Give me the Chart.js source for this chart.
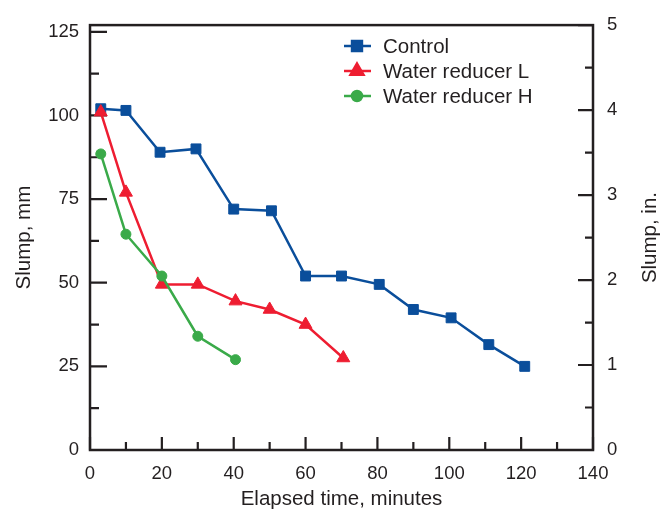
<!DOCTYPE html>
<html>
<head>
<meta charset="utf-8">
<script src="https://cdn.jsdelivr.net/npm/chart.js@4/dist/chart.umd.min.js"></script>
<style>
html,body{margin:0;padding:0;background:#fff}
canvas{display:block}
</style>
</head>
<body>
<canvas id="graf" width="669" height="513"></canvas>
<script>
/* DADOS */
const tControl=[3,10,19.5,29.5,40,50.5,60,70,80.5,90,100.5,111,121];
const slumpControl=[102,101.5,89,90,72,71.5,52,52,49.5,42,39.5,31.5,25];
const tL=[3,10,20,30,40.5,50,60,70.5];
const slumpL=[101,77,49.5,49.5,44.5,42,37.5,27.5];
const tH=[3,10,20,30,40.5];
const slumpH=[88.5,64.5,52,34,27];

const nomes=['Control','Water reducer L','Water reducer H'];

const xTicks=[0,10,20,30,40,50,60,70,80,90,100,110,120,130,140];
const mmTicks=[0,12.5,25,37.5,50,62.5,75,87.5,100,112.5,125];
const inTicks=[0,0.5,1,1.5,2,2.5,3,3.5,4,4.5,5];
const mmPorPol=25.4;

const cores=['#0a4e9b','#ee1d31','#3aaa49'];
const tinta='#231f20';
const fonte='"Liberation Sans", Arial, Helvetica, sans-serif';

function pts(xs,ys){return xs.map((x,i)=>({x:x,y:ys[i]}));}

/* MOLDURA + TICKS PRA DENTRO */
const moldura={
id:'moldura',
beforeDatasetsDraw(c){
const ctx=c.ctx,a=c.chartArea;
const sx=c.scales.x,sy=c.scales.y,sy2=c.scales.y2;
ctx.save();
ctx.strokeStyle=tinta;
ctx.lineWidth=2.2;
ctx.lineCap='butt';
ctx.beginPath();
xTicks.forEach(v=>{
let px=sx.getPixelForValue(v);
let len=v%20===0?13:8;
ctx.moveTo(px,a.bottom);ctx.lineTo(px,a.bottom-len);
});
mmTicks.forEach(v=>{
let py=sy.getPixelForValue(v);
let len=v%25===0?17:9;
ctx.moveTo(a.left,py);ctx.lineTo(a.left+len,py);
});
inTicks.forEach(v=>{
let py=sy2.getPixelForValue(v);
let len=v%1===0?15:8;
ctx.moveTo(a.right,py);ctx.lineTo(a.right-len,py);
});
ctx.stroke();
ctx.lineWidth=2.5;
ctx.strokeRect(a.left,a.top,a.right-a.left,a.bottom-a.top);
ctx.restore();
},
afterDraw(c){
const ctx=c.ctx,a=c.chartArea;
ctx.save();
/* titulo eixo direito, lido de baixo pra cima */
ctx.fillStyle=tinta;
ctx.font='20.5px '+fonte;
ctx.textAlign='center';
ctx.textBaseline='middle';
ctx.translate(650,(a.top+a.bottom)/2);
ctx.rotate(-Math.PI/2);
ctx.fillText('Slump, in.',0,0);
ctx.restore();

/* LEGENDA */
ctx.save();
c.data.datasets.forEach((d,i)=>{
let y=46+i*25;
ctx.strokeStyle=d.borderColor;
ctx.fillStyle=d.backgroundColor;
ctx.lineWidth=2.5;
ctx.beginPath();ctx.moveTo(344,y);ctx.lineTo(371,y);ctx.stroke();
Chart.helpers.drawPoint(ctx,{pointStyle:d.pointStyle,radius:d.pointRadius,borderWidth:1,rotation:0},357,y);
ctx.fillStyle=tinta;
ctx.font='20.5px '+fonte;
ctx.textAlign='left';
ctx.textBaseline='middle';
ctx.fillText(d.label,383,y+1);
});
ctx.restore();
}
};

function serie(i,xs,ys,estilo,raio){
return{
label:nomes[i],
data:pts(xs,ys),
borderColor:cores[i],
backgroundColor:cores[i],
borderWidth:2.5,
pointStyle:estilo,
pointRadius:raio,
pointBorderWidth:1,
pointHoverRadius:raio,
tension:0,
order:3-i
};
}

new Chart(document.getElementById('graf'),{
type:'line',
data:{datasets:[
serie(0,tControl,slumpControl,'rect',7),
serie(1,tL,slumpL,'triangle',7.5),
serie(2,tH,slumpH,'circle',5)
]},
options:{
responsive:false,
animation:false,
layout:{padding:{top:21,left:0,right:0,bottom:0}},
plugins:{legend:{display:false},tooltip:{enabled:false}},
scales:{
x:{
type:'linear',
min:0,max:140,
afterBuildTicks:s=>{s.ticks=xTicks.map(v=>({value:v}));},
afterFit:s=>{s.height=63;},
grid:{display:false,drawTicks:false},
border:{display:false},
ticks:{
autoSkip:false,maxRotation:0,padding:13,color:tinta,
font:{family:fonte,size:18.5},
callback:v=>v%20===0?String(v):''
},
title:{display:true,text:'Elapsed time, minutes',color:tinta,
font:{family:fonte,size:20.5},padding:{top:0,bottom:1}}
},
y:{
position:'left',
min:0,max:5*mmPorPol,
afterBuildTicks:s=>{s.ticks=mmTicks.map(v=>({value:v}));},
afterFit:s=>{s.width=90;},
grid:{display:false,drawTicks:false},
border:{display:false},
ticks:{
autoSkip:false,padding:11,color:tinta,
font:{family:fonte,size:18.5},
callback:v=>v%25===0?String(v):''
},
title:{display:true,text:'Slump, mm',color:tinta,
font:{family:fonte,size:20.5},padding:{top:12,bottom:0}}
},
y2:{
position:'right',
min:0,max:5,
afterBuildTicks:s=>{s.ticks=inTicks.map(v=>({value:v}));},
afterFit:s=>{s.width=76;},
grid:{display:false,drawTicks:false},
border:{display:false},
ticks:{
autoSkip:false,padding:14,color:tinta,
font:{family:fonte,size:18.5},
callback:v=>v%1===0?String(v):''
}
}
}
},
plugins:[moldura]
});
</script>
</body>
</html>
